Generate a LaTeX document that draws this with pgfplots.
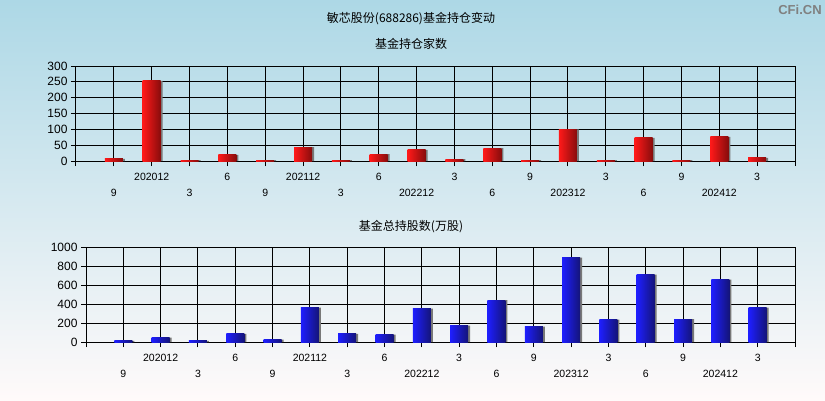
\documentclass[border=0pt]{standalone}
\usepackage{fontspec}
\setmainfont{Liberation Sans}
\newfontfamily\cjk{Noto Sans CJK SC}
\usepackage{pgfplots}
\pgfplotsset{compat=1.18}
\usepackage{pgfplotstable}

\definecolor{bgtop}{RGB}{173,216,230}
\definecolor{bgbot}{RGB}{255,250,250}
\definecolor{redL}{RGB}{255,25,25}
\definecolor{redM}{RGB}{232,115,115}
\definecolor{redR}{RGB}{135,12,12}
\definecolor{bluL}{RGB}{30,30,255}
\definecolor{bluM}{RGB}{112,112,228}
\definecolor{bluR}{RGB}{20,20,120}
\definecolor{shadow}{RGB}{120,120,120}

% x: quarter index, jia: funds holding, gu: shares held (10k)
\pgfplotstableread{
x  jia  gu
1  7    12
2  253  45
3  3    12
4  19   85
5  3    25
6  44   361
7  3    85
8  22   77
9  35   351
10 6    172
11 41   442
12 3    161
13 100  888
14 3    235
15 73   709
16 3    242
17 76   656
18 10   361
}\datatable

\pgfplotsset{
  cfpanel/.style={
    scale only axis, anchor=south west,
    height=95pt,
    xmin=0, xmax=19, ymin=0,
    xtick={0,...,19},
    xticklabels={,,202012,,6,,202112,,6,,3,,9,,3,,9,,3,},
    extra x ticks={1,3,5,7,9,11,13,15,17},
    extra x tick labels={9,3,9,3,202212,6,202312,6,202412},
    extra x tick style={xticklabel style={yshift=-16pt}},
    tick pos=left,
    tick align=outside,
    major tick length=5pt,
    grid=major,
    grid style={black, line width=1pt},
    axis line style={black, line width=1pt},
    tick style={black, line width=1pt},
    xticklabel style={font=\fontsize{10.5}{12}\selectfont, yshift=-4pt},
    yticklabel style={font=\fontsize{12}{12}\selectfont},
    /pgf/number format/assume math mode=true,
    /pgf/number format/1000 sep={},
  },
  % one bar per plot so that each bar gets its own gradient
  shadowbar/.style={ybar, bar width=18pt, bar shift=2pt, fill=shadow, draw=none},
  redbar/.style={ybar, bar width=18pt, bar shift=0pt, draw=none,
    left color=redL, middle color=redM, right color=redR},
  bluebar/.style={ybar, bar width=18pt, bar shift=0pt, draw=none,
    left color=bluL, middle color=bluM, right color=bluR},
}

\begin{document}
\begin{tikzpicture}
\shade[top color=bgtop, bottom color=bgbot] (0,0) rectangle (825pt,400pt);
\useasboundingbox (0,0) rectangle (825pt,400pt);

\node[font=\cjk\fontsize{12}{12}\selectfont] at (411pt,381pt) {敏芯股份(688286)基金持仓变动};
\node[font=\cjk\fontsize{12}{12}\selectfont] at (411pt,356pt) {基金持仓家数};
\node[font=\cjk\fontsize{12}{12}\selectfont] at (411pt,173pt) {基金总持股数(万股)};
\node[font=\bfseries\fontsize{13}{13}\selectfont, text=gray] at (800pt,390pt) {CFi.CN};

\begin{axis}[cfpanel, at={(76pt,239pt)}, width=719pt,
  ymax=300, ytick={0,50,...,300}]
\addplot[shadowbar] table[x=x, y=jia] {\datatable};
\pgfplotsinvokeforeach{1,...,18}{
  \addplot[redbar, restrict x to domain=#1:#1] table[x=x, y=jia] {\datatable};
}
\end{axis}

\begin{axis}[cfpanel, at={(86pt,58pt)}, width=709pt,
  ymax=1000, ytick={0,200,...,1000}]
\addplot[shadowbar] table[x=x, y=gu] {\datatable};
\pgfplotsinvokeforeach{1,...,18}{
  \addplot[bluebar, restrict x to domain=#1:#1] table[x=x, y=gu] {\datatable};
}
\end{axis}
\end{tikzpicture}
\end{document}
